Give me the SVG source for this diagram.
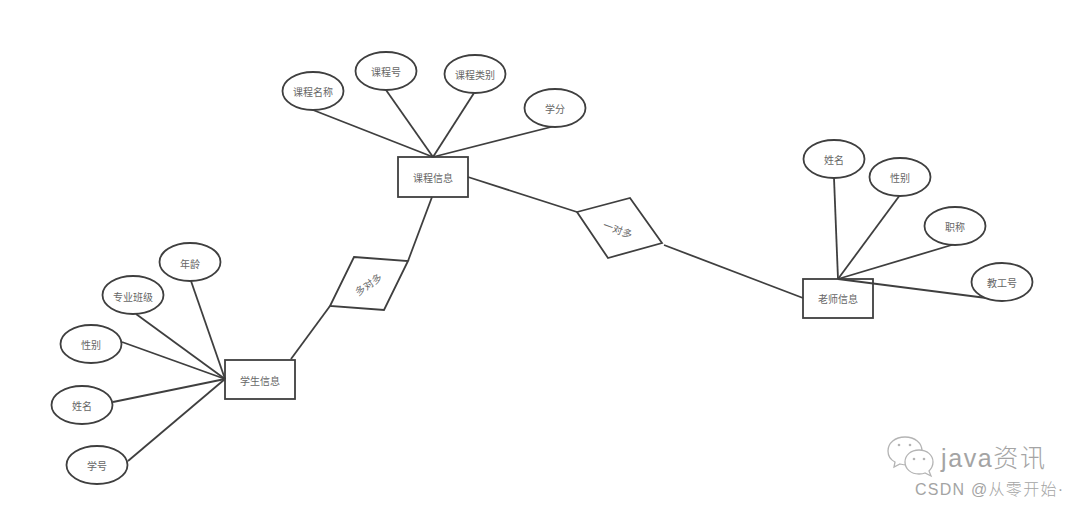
<svg xmlns="http://www.w3.org/2000/svg" width="1080" height="508" viewBox="0 0 1080 508">
<style>
.s{fill:#fff;stroke:#3f3f3f;stroke-width:1.800}
.c line{stroke:#3f3f3f;stroke-width:1.800;fill:none}
text{font-family:"Noto Sans CJK SC","Liberation Sans",sans-serif;font-size:10px;fill:#666;text-anchor:middle;dominant-baseline:central}
.wm{fill:#a4a4a4;text-anchor:start;dominant-baseline:alphabetic;font-weight:300}
.b{fill:#fff;stroke:#b4b4b4;stroke-width:1.300}
.e{fill:#b4b4b4}
</style>
<rect width="1080" height="508" fill="#fff"/>
<g id="n-course"><rect class="s" x="398" y="157" width="70" height="40"/><text x="433" y="177">课程信息</text></g>
<g id="n-student"><rect class="s" x="225" y="360" width="70" height="39"/><text x="260" y="380">学生信息</text></g>
<g id="n-teacher"><rect class="s" x="803" y="279" width="70" height="39"/><text x="838" y="298">老师信息</text></g>
<g id="d-mm"><polygon class="s" points="354,257 408,261 384,310 330,306"/><text x="368" y="284" transform="rotate(-35 368 284)">多对多</text></g>
<g id="d-om"><polygon class="s" points="577,212 630,198 662,243 608,258"/><text x="618" y="229" transform="rotate(20 618 229)">一对多</text></g>
<g class="c" id="connectors">
<line x1="313" y1="110" x2="433" y2="157"/>
<line x1="386" y1="90" x2="433" y2="157"/>
<line x1="474" y1="93" x2="433" y2="157"/>
<line x1="555" y1="126" x2="433" y2="157"/>
<line x1="432" y1="197" x2="408" y2="261"/>
<line x1="468" y1="177" x2="577" y2="212"/>
<line x1="664" y1="245" x2="803" y2="298"/>
<line x1="330" y1="306" x2="291" y2="359"/>
<line x1="191" y1="281" x2="225" y2="379"/>
<line x1="136" y1="314" x2="225" y2="379"/>
<line x1="122" y1="342" x2="225" y2="379"/>
<line x1="113" y1="402" x2="225" y2="379"/>
<line x1="128" y1="461" x2="225" y2="379"/>
<line x1="834" y1="178" x2="838" y2="279"/>
<line x1="900" y1="195" x2="838" y2="279"/>
<line x1="955" y1="244" x2="838" y2="279"/>
<line x1="1002" y1="300" x2="838" y2="279"/>
</g>
<g id="a-cname"><ellipse class="s" cx="313" cy="91" rx="30.500" ry="19"/><text x="313" y="91">课程名称</text></g>
<g id="a-cno"><ellipse class="s" cx="386" cy="71" rx="30.500" ry="19"/><text x="386" y="71">课程号</text></g>
<g id="a-ctype"><ellipse class="s" cx="475" cy="74" rx="30.500" ry="19"/><text x="475" y="74">课程类别</text></g>
<g id="a-credit"><ellipse class="s" cx="555" cy="108" rx="30.500" ry="19"/><text x="555" y="108">学分</text></g>
<g id="a-sage"><ellipse class="s" cx="190" cy="262" rx="30.500" ry="19"/><text x="190" y="263">年龄</text></g>
<g id="a-sclass"><ellipse class="s" cx="133" cy="295" rx="30.500" ry="19"/><text x="133" y="296">专业班级</text></g>
<g id="a-ssex"><ellipse class="s" cx="91" cy="344" rx="30.500" ry="19"/><text x="91" y="344">性别</text></g>
<g id="a-sname"><ellipse class="s" cx="82" cy="405" rx="30.500" ry="19"/><text x="82" y="405">姓名</text></g>
<g id="a-sno"><ellipse class="s" cx="97" cy="465" rx="30.500" ry="19"/><text x="97" y="465">学号</text></g>
<g id="a-tname"><ellipse class="s" cx="834" cy="159" rx="30.500" ry="19"/><text x="834" y="159">姓名</text></g>
<g id="a-tsex"><ellipse class="s" cx="900" cy="177" rx="30.500" ry="19"/><text x="900" y="177">性别</text></g>
<g id="a-ttitle"><ellipse class="s" cx="955" cy="226" rx="30.500" ry="19"/><text x="955" y="226">职称</text></g>
<g id="a-tno"><ellipse class="s" cx="1002" cy="282" rx="30.500" ry="19"/><text x="1002" y="282">教工号</text></g>
<g id="watermark">
<path class="b" d="M905,437C895,437 888,443 888,451C888,456 891,460 895,462L894,467L900,464C903,465 906,465 909,465C918,465 922,458 922,451C922,443 915,437 905,437Z"/>
<circle class="e" cx="899" cy="445" r="1.300"/><circle class="e" cx="910" cy="445" r="1.300"/>
<path class="b" d="M919,450C911,450 905,455 905,462C905,469 911,474 919,474C921,474 923,474 925,473L931,476L929,471C932,468 933,465 933,462C933,455 927,450 919,450Z"/>
<circle class="e" cx="914" cy="459" r="1.300"/><circle class="e" cx="924" cy="459" r="1.300"/>
<text class="wm" x="941" y="467" textLength="104" style="font-size:25px;font-family:'Liberation Sans','Noto Sans CJK SC',sans-serif">java资讯</text>
<text class="wm" x="915" y="495" textLength="148" style="font-size:16px;font-family:'Liberation Sans','Noto Sans CJK SC',sans-serif">CSDN @从零开始·</text>
</g>
</svg>
